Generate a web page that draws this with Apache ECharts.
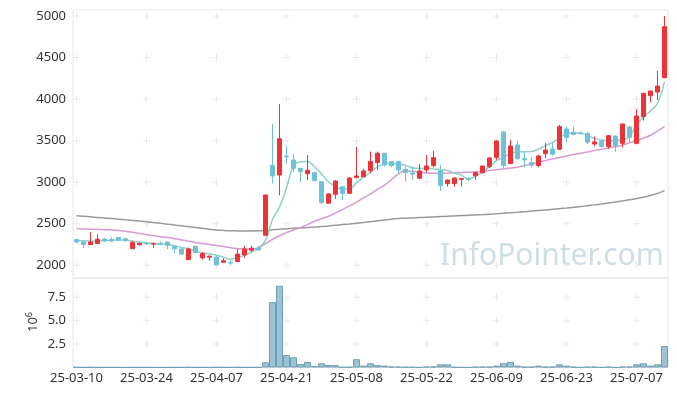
<!DOCTYPE html>
<html><head><meta charset="utf-8">
<script src="https://cdn.jsdelivr.net/npm/echarts@6/dist/echarts.min.js"></script>
<style>html,body{margin:0;padding:0;background:#fff}#c{width:677px;height:396px}</style>
</head><body><div id="c"></div>
<script>
const dates = ['25-03-10','25-03-11','25-03-12','25-03-13','25-03-14','25-03-17','25-03-18','25-03-19','25-03-20','25-03-21',
'25-03-24','25-03-25','25-03-26','25-03-27','25-03-28','25-03-31','25-04-01','25-04-02','25-04-03','25-04-04',
'25-04-07','25-04-08','25-04-09','25-04-10','25-04-11','25-04-14','25-04-15','25-04-16','25-04-17','25-04-18',
'25-04-21','25-04-22','25-04-23','25-04-24','25-04-25','25-04-28','25-04-29','25-04-30','25-05-02','25-05-07',
'25-05-08','25-05-09','25-05-12','25-05-13','25-05-14','25-05-15','25-05-16','25-05-19','25-05-20','25-05-21',
'25-05-22','25-05-23','25-05-26','25-05-27','25-05-28','25-05-29','25-05-30','25-06-02','25-06-04','25-06-05',
'25-06-09','25-06-10','25-06-11','25-06-12','25-06-13','25-06-16','25-06-17','25-06-18','25-06-19','25-06-20',
'25-06-23','25-06-24','25-06-25','25-06-26','25-06-27','25-06-30','25-07-01','25-07-02','25-07-03','25-07-04',
'25-07-07','25-07-08','25-07-09','25-07-10','25-07-11'];
const opens = [2310,2280,2250,2262,2315,2310,2335,2318,2200,2248,
2266,2255,2265,2280,2225,2196,2068,2229,2090,2098,
2100,2036,2036,2045,2125,2182,2208,2362,3200,3087,
3315,3267,3167,3102,3114,3006,2747,2855,2946,2866,
3055,3066,3138,3236,3348,3247,3247,3155,3108,3047,
3148,3200,3138,2982,2982,3035,3045,3078,3114,3187,
3295,3604,3223,3448,3285,3235,3200,3343,3400,3396,
3640,3600,3592,3588,3460,3496,3428,3555,3468,3664,
3468,3788,4041,4085,4258];
const closes = [2280,2250,2280,2315,2295,2292,2302,2300,2272,2265,
2258,2265,2258,2240,2200,2135,2196,2155,2140,2110,
2005,2055,2026,2135,2196,2206,2185,2846,3075,3523,
3305,3168,3127,3143,3018,2755,2858,3014,2866,3050,
3075,3135,3251,3348,3212,3200,3148,3115,3096,3135,
3195,3295,2958,3026,3050,3045,3035,3114,3195,3291,
3496,3200,3435,3283,3268,3205,3315,3387,3336,3668,
3536,3575,3585,3480,3484,3428,3560,3435,3700,3540,
3797,4069,4097,4157,4871];
const lows = [2272,2210,2245,2255,2280,2280,2290,2280,2195,2235,
2245,2210,2240,2195,2150,2130,2065,2150,2068,2052,
2000,2033,2000,2043,2090,2160,2175,2355,2985,2842,
3220,3128,3000,3027,3015,2738,2746,2800,2786,2860,
3050,3060,3108,3148,3190,3180,3110,3006,3030,3040,
3115,3180,2894,2946,2946,2946,3010,3030,3105,3170,
3270,3165,3220,3270,3180,3180,3180,3290,3320,3390,
3487,3560,3575,3460,3430,3420,3400,3367,3420,3470,
3456,3740,3960,3990,4250];
const highs = [2320,2285,2400,2375,2330,2335,2340,2335,2296,2270,
2285,2268,2285,2285,2240,2200,2212,2235,2160,2115,
2105,2085,2060,2195,2235,2240,2230,2846,3700,3940,
3440,3340,3170,3325,3125,3010,2870,3026,2955,3060,
3427,3160,3367,3367,3350,3250,3255,3190,3190,3215,
3327,3375,3205,3030,3055,3048,3060,3120,3195,3305,
3500,3610,3510,3500,3360,3300,3330,3470,3480,3690,
3668,3670,3610,3600,3550,3500,3565,3560,3705,3680,
3880,4070,4100,4338,5000];
const ma5 = [2296,2295,2292,2295,2298,2300,2305,2305,2290,2280,
2268,2258,2255,2250,2235,2215,2198,2170,2150,2135,
2122,2098,2072,2095,2118,2160,2210,2300,2550,2700,
2930,3190,3245,3250,3185,3100,3006,2950,2915,2920,
2990,3060,3120,3185,3215,3228,3215,3205,3170,3165,
3165,3160,3150,3140,3110,3085,3040,3075,3120,3190,
3260,3300,3340,3365,3365,3368,3400,3440,3480,3530,
3585,3590,3588,3560,3528,3508,3502,3500,3510,3548,
3690,3780,3860,3950,4210];
const ma20 = [2440,2437,2434,2431,2428,2424,2418,2410,2398,2383,
2368,2355,2344,2333,2320,2305,2290,2275,2262,2250,
2238,2225,2212,2203,2198,2196,2210,2260,2310,2355,
2395,2425,2455,2490,2530,2560,2590,2630,2670,2715,
2760,2810,2860,2915,2965,3030,3100,3140,3128,3120,
3112,3108,3107,3110,3114,3117,3120,3125,3132,3140,
3150,3160,3170,3180,3200,3220,3240,3262,3280,3298,
3315,3332,3348,3363,3380,3396,3412,3428,3445,3475,
3500,3530,3565,3615,3668];
const ma120 = [2597,2590,2583,2576,2569,2562,2555,2547,2540,2532,
2525,2515,2505,2495,2485,2475,2465,2455,2445,2435,
2426,2420,2416,2414,2413,2413,2415,2420,2428,2435,
2440,2445,2450,2455,2460,2466,2474,2482,2490,2497,
2505,2515,2525,2535,2545,2555,2562,2566,2570,2574,
2578,2582,2586,2590,2594,2598,2602,2606,2610,2615,
2620,2626,2632,2638,2645,2652,2659,2666,2673,2681,
2689,2698,2707,2717,2727,2738,2750,2762,2775,2788,
2803,2820,2840,2865,2898];
const volumes = [0.03,0.03,0.04,0.03,0.03,0.02,0.03,0.02,0.03,0.03,
0.03,0.02,0.02,0.03,0.03,0.03,0.04,0.03,0.03,0.02,
0.04,0.03,0.03,0.04,0.03,0.03,0.03,0.56,6.98,8.73,
1.34,1.09,0.37,0.59,0.16,0.45,0.27,0.25,0.05,0.05,
0.88,0.2,0.45,0.25,0.2,0.1,0.08,0.06,0.05,0.02,
0.1,0.1,0.34,0.34,0.05,0.02,0.02,0.08,0.08,0.08,
0.2,0.45,0.6,0.2,0.08,0.08,0.2,0.08,0.08,0.34,
0.2,0.08,0.02,0.08,0.08,0.02,0.08,0.02,0.1,0.1,
0.34,0.45,0.2,0.34,2.3];
const priceTicks = [2000,2500,3000,3500,4000,4500,5000];
const volumeTicks = [2.5,5,7.5];
const dateTickStep = 10;

const candle = dates.map((d,i)=>[opens[i],closes[i],lows[i],highs[i]]);
const tickDates = dates.filter((d,i)=>i%dateTickStep===0);
const plusMain = []; tickDates.forEach(d=>priceTicks.forEach(v=>plusMain.push([d,v])));
const plusVol = []; tickDates.forEach(d=>volumeTicks.forEach(v=>plusVol.push([d,v])));

const FONT = 'Noto Sans';
const plusSym = 'path://M3,0H4V7H3Z M0,3H7V4H0Z';
const chart = echarts.init(document.getElementById('c'), null, {renderer:'canvas'});
chart.setOption({
  animation:false,
  textStyle:{fontFamily:FONT},
  grid:[
    {left:73, right:9, top:10, height:268, show:true, borderColor:'#e6e6e6', borderWidth:1, backgroundColor:'transparent'},
    {left:73, right:9, top:278, height:89.5, show:true, borderColor:'#e6e6e6', borderWidth:1, backgroundColor:'transparent'}
  ],
  xAxis:[
    {type:'category', data:dates, gridIndex:0, boundaryGap:true, axisLine:{show:false}, axisTick:{show:false}, axisLabel:{show:false}, splitLine:{show:false}},
    {type:'category', data:dates, gridIndex:1, boundaryGap:true, axisLine:{show:false}, axisTick:{show:false}, splitLine:{show:false},
     axisLabel:{interval:dateTickStep-1, color:'#333', fontSize:13, margin:4, fontFamily:FONT}}
  ],
  yAxis:[
    {type:'value', gridIndex:0, min:1847, max:5072, axisLine:{show:false}, axisTick:{show:false}, splitLine:{show:false},
     axisLabel:{customValues:priceTicks, color:'#333', fontSize:13, margin:7, fontFamily:FONT, formatter:v=>String(v)}},
    {type:'value', gridIndex:1, min:0, max:9.56, axisLine:{show:false}, axisTick:{show:false}, splitLine:{show:false},
     axisLabel:{customValues:volumeTicks, color:'#333', fontSize:13, margin:7, fontFamily:FONT, formatter:v=>v.toFixed(1)}}
  ],
  graphic:[
    {type:'text', left:440, top:241, z:0, style:{text:'InfoPointer.com', font:'30px "Noto Sans"', fill:'rgba(160,190,205,0.5)'}},
    {type:'text', x:33, y:322, rotation:Math.PI/2, style:{text:'{a|10}{b|6}', align:'center', verticalAlign:'middle',
      rich:{a:{fontSize:13, fill:'#333', fontFamily:FONT}, b:{fontSize:9, fill:'#333', fontFamily:FONT, verticalAlign:'top', padding:[0,0,8,0]}}}}
  ],
  series:[
    {type:'scatter', xAxisIndex:0, yAxisIndex:0, data:plusMain, symbol:plusSym, symbolSize:7, itemStyle:{color:'#e3e3e3'}, silent:true, z:1},
    {type:'scatter', xAxisIndex:1, yAxisIndex:1, data:plusVol, symbol:plusSym, symbolSize:7, itemStyle:{color:'#e3e3e3'}, silent:true, z:1},
    {type:'line', name:'MA120', data:ma120, smooth:true, symbol:'none', lineStyle:{color:'#999', width:1.5}, z:3},
    {type:'line', name:'MA20', data:ma20, smooth:true, symbol:'none', lineStyle:{color:'#d69bd3', width:1.5}, z:3},
    {type:'line', name:'MA5', data:ma5, smooth:true, symbol:'none', lineStyle:{color:'#8fd0c8', width:1.5}, z:3},
    {type:'candlestick', data:candle, barWidth:5, z:4,
     itemStyle:{color:'#ee3338', color0:'#6dc2d9', borderColor:'#ee3338', borderColor0:'#6dc2d9', borderWidth:1}},
    {type:'bar', xAxisIndex:1, yAxisIndex:1, data:volumes, barCategoryGap:'0%',
     itemStyle:{color:'#9cc3d4', borderColor:'#6f9eb5', borderWidth:1}}
  ]
});
</script></body></html>
